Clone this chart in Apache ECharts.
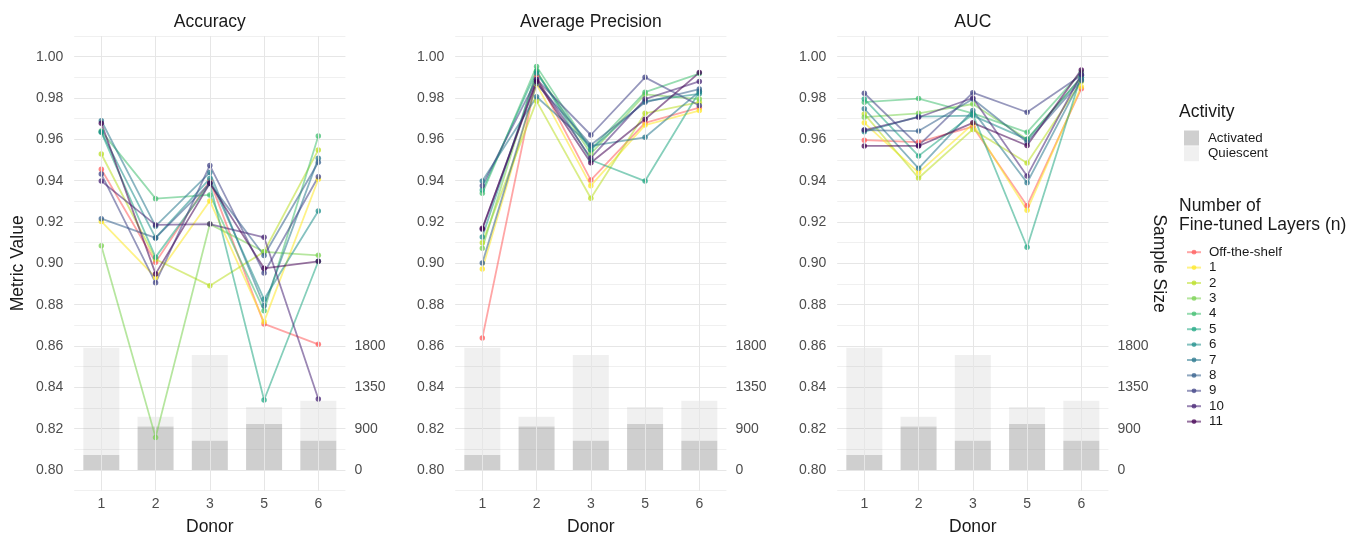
<!DOCTYPE html>
<html>
<head>
<meta charset="utf-8">
<script src="https://cdn.jsdelivr.net/npm/echarts@6/dist/echarts.min.js"></script>
<style>
html,body{margin:0;padding:0;background:#fff;}
#c{width:1363px;height:534px;}
</style>
</head>
<body>
<div id="c"></div>
<script>
// ---------------- DATA ----------------
const DONORS = ['1', '2', '3', '5', '6'];
const METRICS = ['Accuracy', 'Average Precision', 'AUC'];
const LAYERS = ['Off-the-shelf', '1', '2', '3', '4', '5', '6', '7', '8', '9', '10', '11'];

// rows follow LAYERS, columns follow DONORS
const ACCURACY = [
  [0.9455, 0.9005, 0.9400, 0.8707, 0.8608],
  [0.9203, 0.8932, 0.9302, 0.8718, 0.9407],
  [0.9529, 0.9020, 0.8892, 0.9056, 0.9549],
  [0.9085, 0.8158, 0.9190, 0.9056, 0.9039],
  [0.9640, 0.9313, 0.9331, 0.8771, 0.9616],
  [0.9634, 0.9030, 0.9387, 0.8339, 0.9010],
  [0.9636, 0.9123, 0.9410, 0.8826, 0.9253],
  [0.9690, 0.9180, 0.9439, 0.8795, 0.9508],
  [0.9216, 0.9123, 0.9387, 0.9038, 0.9489],
  [0.9432, 0.8906, 0.9474, 0.8953, 0.9419],
  [0.9398, 0.9186, 0.9190, 0.9126, 0.8344],
  [0.9678, 0.8949, 0.9387, 0.8976, 0.9010]
];
const AVG_PRECISION = [
  [0.8639, 0.9903, 0.9403, 0.9680, 0.9753],
  [0.8973, 0.9866, 0.9376, 0.9669, 0.9739],
  [0.9100, 0.9785, 0.9315, 0.9726, 0.9780],
  [0.9073, 0.9930, 0.9530, 0.9818, 0.9795],
  [0.9339, 0.9953, 0.9550, 0.9828, 0.9918],
  [0.9355, 0.9930, 0.9500, 0.9398, 0.9830],
  [0.9128, 0.9920, 0.9550, 0.9785, 0.9820],
  [0.9398, 0.9806, 0.9568, 0.9610, 0.9831],
  [0.9002, 0.9870, 0.9573, 0.9779, 0.9843],
  [0.9376, 0.9890, 0.9621, 0.9900, 0.9764],
  [0.9165, 0.9890, 0.9510, 0.9795, 0.9880],
  [0.9170, 0.9880, 0.9487, 0.9697, 0.9923]
];
const AUC = [
  [0.9596, 0.9587, 0.9661, 0.9279, 0.9845],
  [0.9680, 0.9439, 0.9674, 0.9257, 0.9855],
  [0.9723, 0.9413, 0.9648, 0.9486, 0.9880],
  [0.9707, 0.9726, 0.9771, 0.9600, 0.9900],
  [0.9780, 0.9797, 0.9726, 0.9634, 0.9925],
  [0.9795, 0.9520, 0.9721, 0.9078, 0.9910],
  [0.9637, 0.9710, 0.9715, 0.9600, 0.9900],
  [0.9748, 0.9460, 0.9739, 0.9390, 0.9890],
  [0.9645, 0.9640, 0.9795, 0.9587, 0.9885],
  [0.9823, 0.9570, 0.9826, 0.9731, 0.9910],
  [0.9645, 0.9707, 0.9800, 0.9423, 0.9915],
  [0.9568, 0.9568, 0.9680, 0.9570, 0.9936]
];

// sample sizes per donor
const ACTIVATED = [328, 925, 639, 950, 639];
const QUIESCENT = [1454, 105, 1064, 186, 564];
// secondary (sample size) axis: tick labels and the metric value they sit at
const SIZE_TICKS = [0, 900, 1350, 1800];
const SIZE_TICK_AT = [0.80, 0.82, 0.84, 0.86];

// ---------------- STYLE ----------------
const LAYER_COLORS = ['#FF5C5C', '#FDE725', '#BBDF27', '#7AD151', '#43BF71', '#22A884',
  '#21908C', '#2A788E', '#35608D', '#414487', '#482576', '#440154'];
const FONT = 'Liberation Sans, Arial, Helvetica, sans-serif';
const GRID_LEFTS = [74.2, 455.2, 837.2];
const GRID_W = 271.25;
const GRID_TOP = 36;
const GRID_H = 454.7;

function sizeToMetric(n) {
  for (let k = 1; k < SIZE_TICKS.length; k++) {
    if (n <= SIZE_TICKS[k] || k === SIZE_TICKS.length - 1) {
      const t = (n - SIZE_TICKS[k - 1]) / (SIZE_TICKS[k] - SIZE_TICKS[k - 1]);
      return SIZE_TICK_AT[k - 1] + t * (SIZE_TICK_AT[k] - SIZE_TICK_AT[k - 1]);
    }
  }
}

const METRIC_DATA = [ACCURACY, AVG_PRECISION, AUC];

const chart = echarts.init(document.getElementById('c'));

const grids = [], xAxes = [], yAxes = [], series = [], graphics = [];

METRICS.forEach((m, i) => {
  grids.push({ left: GRID_LEFTS[i], width: GRID_W, top: GRID_TOP, height: GRID_H, containLabel: false, outerBoundsMode: 'none' });
  graphics.push({
    type: 'text', x: GRID_LEFTS[i] + GRID_W / 2, y: 22,
    style: { text: m, fontFamily: FONT, fontSize: 17.5, fill: '#1a1a1a', align: 'center', verticalAlign: 'middle' }
  });
  xAxes.push({
    type: 'category', gridIndex: i, data: DONORS, boundaryGap: true,
    axisLine: { show: false }, axisTick: { show: false }, splitLine: { show: false },
    axisLabel: { color: '#4d4d4d', fontSize: 14, fontFamily: FONT, margin: 6 },
    name: 'Donor', nameLocation: 'middle', nameGap: 27,
    nameTextStyle: { fontFamily: FONT, fontSize: 17.5, color: '#1a1a1a' }
  });
  yAxes.push({
    type: 'value', gridIndex: i, min: 0.79, max: 1.01, interval: 0.01, position: 'left',
    axisLine: { show: false }, axisTick: { show: false },
    splitLine: { show: true, lineStyle: { color: ['#f0f0f0', '#e6e6e6'], width: 1 } },
    axisLabel: {
      color: '#4d4d4d', fontSize: 14, fontFamily: FONT, margin: 11,
      formatter: v => { const h = Math.round(v * 100); return (h % 2 === 0 && h >= 80 && h <= 100) ? (h / 100).toFixed(2) : ''; }
    },
    name: i === 0 ? 'Metric Value' : '', nameLocation: 'middle', nameGap: 47,
    nameTextStyle: { fontFamily: FONT, fontSize: 17.5, color: '#1a1a1a' }
  });
});
METRICS.forEach((m, i) => {
  yAxes.push({
    type: 'value', gridIndex: i, min: 0.79, max: 1.01, interval: 0.01, position: 'right',
    axisLine: { show: false }, axisTick: { show: false }, splitLine: { show: false },
    axisLabel: {
      color: '#4d4d4d', fontSize: 14, fontFamily: FONT, margin: 9,
      formatter: v => {
        for (let k = 0; k < SIZE_TICK_AT.length; k++) if (Math.abs(v - SIZE_TICK_AT[k]) < 1e-6) return String(SIZE_TICKS[k]);
        return '';
      }
    }
  });
});

METRICS.forEach((m, i) => {
  const stack = 'size' + i;
  // invisible base so that the bars start at the zero of the sample-size axis
  series.push({
    type: 'bar', name: '_base', xAxisIndex: i, yAxisIndex: i, stack: stack, barWidth: 36,
    data: DONORS.map(() => SIZE_TICK_AT[0]), itemStyle: { color: 'rgba(0,0,0,0)' }, silent: true, z: 1,
    markLine: {
      silent: true, symbol: 'none', label: { show: false },
      lineStyle: { color: '#e6e6e6', type: 'solid', width: 1 },
      data: DONORS.map((d, k) => ({ xAxis: k }))
    }
  });
  series.push({
    type: 'bar', name: 'Activated', xAxisIndex: i, yAxisIndex: i, stack: stack, barWidth: 36, z: 2,
    data: ACTIVATED.map(a => sizeToMetric(a) - SIZE_TICK_AT[0]),
    itemStyle: { color: 'rgba(128,128,128,0.38)' }, silent: true
  });
  series.push({
    type: 'bar', name: 'Quiescent', xAxisIndex: i, yAxisIndex: i, stack: stack, barWidth: 36, z: 2,
    data: ACTIVATED.map((a, k) => sizeToMetric(a + QUIESCENT[k]) - sizeToMetric(a)),
    itemStyle: { color: 'rgba(128,128,128,0.12)' }, silent: true
  });
  METRIC_DATA[i].forEach((vals, j) => {
    series.push({
      type: 'line', name: LAYERS[j], xAxisIndex: i, yAxisIndex: i, data: vals, z: 3,
      symbol: 'circle', symbolSize: 5.5, showSymbol: true,
      lineStyle: { color: LAYER_COLORS[j], width: 1.8, opacity: 0.55 },
      itemStyle: { color: LAYER_COLORS[j], opacity: 0.75 },
      emphasis: { disabled: true }, animation: false
    });
  });
});

graphics.push(
  { type: 'text', left: 1179, top: 103, style: { text: 'Activity', fontFamily: FONT, fontSize: 17.5, fill: '#1a1a1a' } },
  { type: 'text', left: 1179, top: 197, style: { text: 'Number of\nFine-tuned Layers (n)', fontFamily: FONT, fontSize: 17.5, lineHeight: 18.7, fill: '#1a1a1a' } },
  { type: 'text', x: 1159, y: 263.5, rotation: -Math.PI / 2,
    style: { text: 'Sample Size', fontFamily: FONT, fontSize: 17.5, fill: '#1a1a1a', align: 'center', verticalAlign: 'middle' } }
);

const option = {
  animation: false,
  backgroundColor: '#ffffff',
  textStyle: { fontFamily: FONT },
  grid: grids,
  xAxis: xAxes,
  yAxis: yAxes,
  legend: [
    {
      data: ['Activated', 'Quiescent'], orient: 'vertical', left: 1179, top: 125.5,
      icon: 'rect', itemWidth: 15, itemHeight: 15, itemGap: 0.7, selectedMode: false,
      textStyle: { fontFamily: FONT, fontSize: 13.3, color: '#1a1a1a', lineHeight: 15, padding: [0, 0, 0, 4] }
    },
    {
      data: LAYERS, orient: 'vertical', left: 1181, top: 239.5,
      itemWidth: 14, itemHeight: 6, itemGap: 0, selectedMode: false,
      textStyle: { fontFamily: FONT, fontSize: 13.3, color: '#1a1a1a', lineHeight: 15.4, padding: [0, 0, 0, 3] }
    }
  ],
  graphic: graphics,
  series: series
};
chart.setOption(option);
</script>
</body>
</html>
